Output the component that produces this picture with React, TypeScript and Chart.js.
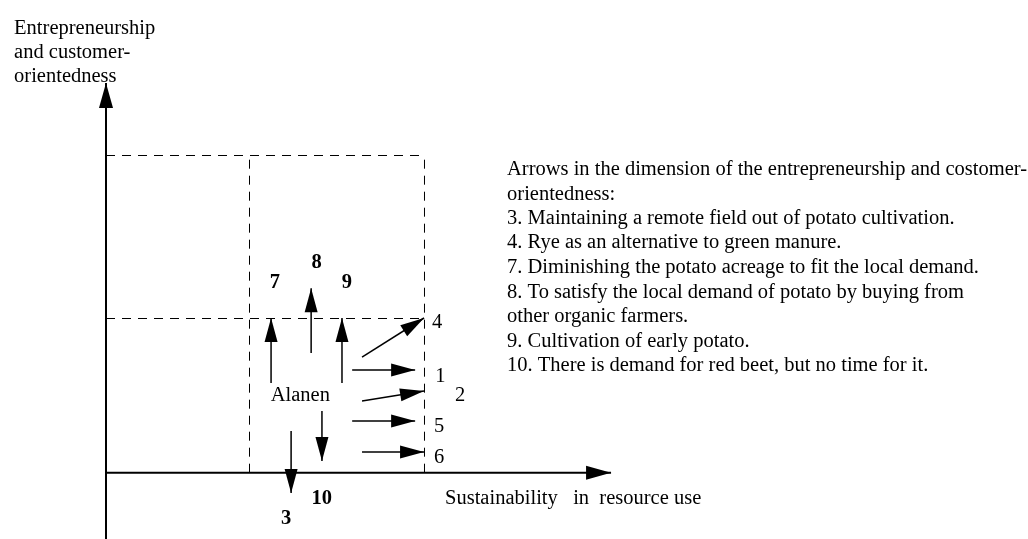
import React, { useEffect, useRef } from 'react';
import { Chart, registerables } from 'chart.js';

Chart.register(...registerables);

// ---- Scale ranges (data units; origin at the axes crossing) ----
const xRange = [-3.333, 28.99];
const yRange = [-2.087, 14.88];

// ---- Main axes (drawn with arrowheads) ----
const axisStartX = [0, 0];
const axisStartY = [0, -2.09];
const axisEndX = [15.88, 0];
const axisEndY = [0, 12.27];

// ---- Dashed guide lines ----
const dashStartX = [0, 0, 4.512, 10.014];
const dashStartY = [9.985, 4.854, 0, 0];
const dashEndX = [10.014, 10.014, 4.512, 10.014];
const dashEndY = [9.985, 4.854, 9.985, 9.985];

// ---- Arrows (movements) ----
const arrowIds = ['7', '8', '9', '4', '1', '2', '5', '6', '10', '3'];
const arrowStartX = [5.19, 6.45, 7.42, 8.05, 7.74, 8.05, 7.74, 8.05, 6.79, 5.82];
const arrowStartY = [2.82, 3.77, 2.82, 3.64, 3.23, 2.26, 1.63, 0.65, 1.94, 1.31];
const arrowEndX = [5.19, 6.45, 7.42, 10.0, 9.72, 10.0, 9.72, 10.0, 6.79, 5.82];
const arrowEndY = [4.87, 5.81, 4.87, 4.87, 3.23, 2.57, 1.63, 0.65, 0.37, -0.64];

// ---- Arrow number labels ----
const boldLabels = ['7', '8', '9', '10', '3'];
const boldLabelX = [5.31, 6.62, 7.57, 6.78, 5.66];
const boldLabelY = [5.8, 6.43, 5.8, -0.99, -1.61];

const plainLabels = ['4', '1', '2', '5', '6', 'Alanen'];
const plainLabelX = [10.25, 10.35, 10.97, 10.31, 10.31, 5.18];
const plainLabelY = [4.55, 2.86, 2.27, 1.29, 0.31, 2.26];

// ---- Axis titles ----
const yTitleLines = ['Entrepreneurship', 'and customer-', 'orientedness'];
const yTitleX = -2.89;
const yTitleY = [13.81, 13.05, 12.3];
const xTitle = 'Sustainability   in  resource use';
const xTitleX = 10.66;
const xTitleY = -0.99;

// ---- Explanation text ----
const noteLines = [
  'Arrows in the dimension of the entrepreneurship and costomer-',
  'orientedness:',
  '3. Maintaining a remote field out of potato cultivation.',
  '4. Rye as an alternative to green manure.',
  '7. Diminishing the potato acreage to fit the local demand.',
  '8. To satisfy the local demand of potato by buying from',
  'other organic farmers.',
  '9. Cultivation of early potato.',
  '10. There is demand for red beet, but no time for it.',
];
const noteX = 12.61;
const noteY = [9.37, 8.6, 7.83, 7.06, 6.29, 5.51, 4.74, 3.97, 3.2];

const FONT = '"Liberation Serif", "Times New Roman", serif';
const SIZE = '20.5px';

const arrowHeadPlugin = {
  id: 'arrowHeads',
  afterDatasetsDraw(chart: any) {
    const ctx = chart.ctx;
    chart.data.datasets.forEach((ds: any, i: number) => {
      if (!ds.arrowHead) return;
      const meta = chart.getDatasetMeta(i);
      const pts = meta.data;
      if (!pts || pts.length < 2) return;
      const a = pts[0];
      const b = pts[pts.length - 1];
      const ang = Math.atan2(b.y - a.y, b.x - a.x);
      const len = ds.arrowHead.len;
      const hw = ds.arrowHead.half;
      const bx = b.x - len * Math.cos(ang);
      const by = b.y - len * Math.sin(ang);
      ctx.save();
      ctx.fillStyle = '#000';
      ctx.beginPath();
      ctx.moveTo(b.x, b.y);
      ctx.lineTo(bx + hw * Math.sin(ang), by - hw * Math.cos(ang));
      ctx.lineTo(bx - hw * Math.sin(ang), by + hw * Math.cos(ang));
      ctx.closePath();
      ctx.fill();
      ctx.restore();
    });
  },
};

const textPlugin = {
  id: 'textLabels',
  afterDraw(chart: any) {
    const ctx = chart.ctx;
    const xs = chart.scales.x;
    const ys = chart.scales.y;
    const px = (v: number) => xs.getPixelForValue(v);
    const py = (v: number) => ys.getPixelForValue(v);
    ctx.save();
    ctx.fillStyle = '#000';
    ctx.textBaseline = 'alphabetic';

    ctx.font = `bold ${SIZE} ${FONT}`;
    ctx.textAlign = 'center';
    boldLabels.forEach((t, i) => ctx.fillText(t, px(boldLabelX[i]), py(boldLabelY[i])));

    ctx.font = `${SIZE} ${FONT}`;
    ctx.textAlign = 'left';
    plainLabels.forEach((t, i) => ctx.fillText(t, px(plainLabelX[i]), py(plainLabelY[i])));

    yTitleLines.forEach((t, i) => ctx.fillText(t, px(yTitleX), py(yTitleY[i])));
    ctx.fillText(xTitle, px(xTitleX), py(xTitleY));

    noteLines.forEach((t, i) => ctx.fillText(t, px(noteX), py(noteY[i])));
    ctx.restore();
  },
};

function segment(x0: number, y0: number, x1: number, y1: number) {
  return [
    { x: x0, y: y0 },
    { x: x1, y: y1 },
  ];
}

export default function App() {
  const ref = useRef<HTMLCanvasElement | null>(null);

  useEffect(() => {
    document.body.style.margin = '0';
    const canvas = ref.current;
    if (!canvas) return;

    const datasets: any[] = [];

    dashStartX.forEach((_, i) => {
      datasets.push({
        data: segment(dashStartX[i], dashStartY[i], dashEndX[i], dashEndY[i]),
        borderColor: '#000',
        borderWidth: 1,
        borderDash: [9, 7],
        showLine: true,
        pointRadius: 0,
        fill: false,
      });
    });

    axisStartX.forEach((_, i) => {
      datasets.push({
        data: segment(axisStartX[i], axisStartY[i], axisEndX[i], axisEndY[i]),
        borderColor: '#000',
        borderWidth: 2,
        showLine: true,
        pointRadius: 0,
        fill: false,
        arrowHead: { len: 25, half: 7 },
      });
    });

    arrowIds.forEach((id, i) => {
      datasets.push({
        label: id,
        data: segment(arrowStartX[i], arrowStartY[i], arrowEndX[i], arrowEndY[i]),
        borderColor: '#000',
        borderWidth: 1.5,
        showLine: true,
        pointRadius: 0,
        fill: false,
        arrowHead: { len: 24, half: 6.5 },
      });
    });

    const chart = new Chart(canvas, {
      type: 'scatter',
      data: { datasets },
      options: {
        animation: false,
        responsive: false,
        maintainAspectRatio: false,
        devicePixelRatio: 1,
        layout: { padding: 0 },
        plugins: {
          legend: { display: false },
          tooltip: { enabled: false },
        },
        elements: { line: { tension: 0, borderCapStyle: 'butt' } },
        scales: {
          x: { type: 'linear', min: xRange[0], max: xRange[1], display: false },
          y: { type: 'linear', min: yRange[0], max: yRange[1], display: false },
        },
      },
      plugins: [arrowHeadPlugin, textPlugin],
    } as any);

    return () => chart.destroy();
  }, []);

  return (
    <div style={{ width: 1028, height: 539, background: '#fff' }}>
      <canvas ref={ref} width={1028} height={539} style={{ display: 'block' }} />
    </div>
  );
}
